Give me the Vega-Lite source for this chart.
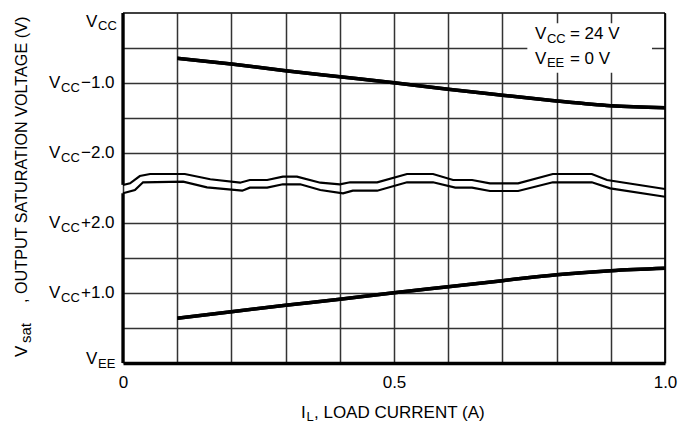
{
  "$schema": "https://vega.github.io/schema/vega-lite/v6.json",
  "width": 542,
  "height": 350,
  "autosize": {"type": "none"},
  "padding": {"left": 123, "top": 13, "right": 32, "bottom": 76},
  "background": "white",
  "config": {
    "view": {"stroke": null},
    "font": "Liberation Sans",
    "text": {"font": "Liberation Sans", "color": "black"}
  },
  "datasets": {
    "curves": [
      {"current": 0.1, "v": 8.706, "series": "high"},
      {"current": 0.2, "v": 8.543, "series": "high"},
      {"current": 0.3, "v": 8.351, "series": "high"},
      {"current": 0.4, "v": 8.18, "series": "high"},
      {"current": 0.5, "v": 8.009, "series": "high"},
      {"current": 0.6, "v": 7.82, "series": "high"},
      {"current": 0.7, "v": 7.65, "series": "high"},
      {"current": 0.8, "v": 7.486, "series": "high"},
      {"current": 0.9, "v": 7.35, "series": "high"},
      {"current": 1.0, "v": 7.294, "series": "high"},
      {"current": 0.1, "v": 1.277, "series": "low"},
      {"current": 0.2, "v": 1.466, "series": "low"},
      {"current": 0.3, "v": 1.649, "series": "low"},
      {"current": 0.4, "v": 1.82, "series": "low"},
      {"current": 0.5, "v": 2.009, "series": "low"},
      {"current": 0.6, "v": 2.18, "series": "low"},
      {"current": 0.7, "v": 2.351, "series": "low"},
      {"current": 0.8, "v": 2.523, "series": "low"},
      {"current": 0.9, "v": 2.637, "series": "low"},
      {"current": 1.0, "v": 2.706, "series": "low"}
    ],
    "breaks": [
      {"current": 0.0, "v": 5.086, "edge": "upper"},
      {"current": 0.013, "v": 5.134, "edge": "upper"},
      {"current": 0.031, "v": 5.343, "edge": "upper"},
      {"current": 0.05, "v": 5.4, "edge": "upper"},
      {"current": 0.114, "v": 5.4, "edge": "upper"},
      {"current": 0.161, "v": 5.249, "edge": "upper"},
      {"current": 0.216, "v": 5.151, "edge": "upper"},
      {"current": 0.234, "v": 5.229, "edge": "upper"},
      {"current": 0.266, "v": 5.229, "edge": "upper"},
      {"current": 0.295, "v": 5.323, "edge": "upper"},
      {"current": 0.321, "v": 5.323, "edge": "upper"},
      {"current": 0.364, "v": 5.151, "edge": "upper"},
      {"current": 0.4, "v": 5.106, "edge": "upper"},
      {"current": 0.419, "v": 5.163, "edge": "upper"},
      {"current": 0.469, "v": 5.163, "edge": "upper"},
      {"current": 0.524, "v": 5.4, "edge": "upper"},
      {"current": 0.572, "v": 5.4, "edge": "upper"},
      {"current": 0.609, "v": 5.229, "edge": "upper"},
      {"current": 0.644, "v": 5.229, "edge": "upper"},
      {"current": 0.677, "v": 5.134, "edge": "upper"},
      {"current": 0.729, "v": 5.134, "edge": "upper"},
      {"current": 0.793, "v": 5.4, "edge": "upper"},
      {"current": 0.865, "v": 5.4, "edge": "upper"},
      {"current": 0.893, "v": 5.229, "edge": "upper"},
      {"current": 1.0, "v": 4.971, "edge": "upper"},
      {"current": 0.0, "v": 4.849, "edge": "lower"},
      {"current": 0.022, "v": 4.943, "edge": "lower"},
      {"current": 0.037, "v": 5.163, "edge": "lower"},
      {"current": 0.111, "v": 5.18, "edge": "lower"},
      {"current": 0.155, "v": 5.02, "edge": "lower"},
      {"current": 0.22, "v": 4.923, "edge": "lower"},
      {"current": 0.234, "v": 5.009, "edge": "lower"},
      {"current": 0.266, "v": 5.009, "edge": "lower"},
      {"current": 0.295, "v": 5.106, "edge": "lower"},
      {"current": 0.327, "v": 5.106, "edge": "lower"},
      {"current": 0.364, "v": 4.943, "edge": "lower"},
      {"current": 0.406, "v": 4.849, "edge": "lower"},
      {"current": 0.424, "v": 4.923, "edge": "lower"},
      {"current": 0.469, "v": 4.923, "edge": "lower"},
      {"current": 0.524, "v": 5.163, "edge": "lower"},
      {"current": 0.572, "v": 5.163, "edge": "lower"},
      {"current": 0.613, "v": 5.009, "edge": "lower"},
      {"current": 0.644, "v": 5.009, "edge": "lower"},
      {"current": 0.677, "v": 4.914, "edge": "lower"},
      {"current": 0.729, "v": 4.914, "edge": "lower"},
      {"current": 0.793, "v": 5.163, "edge": "lower"},
      {"current": 0.865, "v": 5.163, "edge": "lower"},
      {"current": 0.899, "v": 4.991, "edge": "lower"},
      {"current": 1.0, "v": 4.751, "edge": "lower"}
    ],
    "ylabels": [
      {"v": 10, "sub": "CC", "suffix": "", "pos": "top"},
      {"v": 8, "sub": "CC", "suffix": "−1.0", "pos": "mid"},
      {"v": 6, "sub": "CC", "suffix": "−2.0", "pos": "mid"},
      {"v": 4, "sub": "CC", "suffix": "+2.0", "pos": "mid"},
      {"v": 2, "sub": "CC", "suffix": "+1.0", "pos": "mid"},
      {"v": 0, "sub": "EE", "suffix": "", "pos": "bottom"}
    ],
    "notes": [
      {"v": 9.386, "sub": "CC", "rest": "= 24 V"},
      {"v": 8.686, "sub": "EE", "rest": "= 0 V"}
    ],
    "one": [{}]
  },
  "layer": [
    {
      "data": {"name": "curves"},
      "mark": {"type": "line", "color": "black", "strokeWidth": 3.5, "interpolate": "monotone"},
      "encoding": {
        "x": {"field": "current", "type": "quantitative", "title": null, "scale": {"domain": [0, 1], "nice": false},
          "axis": {
            "values": [0, 0.1, 0.2, 0.3, 0.4, 0.5, 0.6, 0.7, 0.8, 0.9, 1],
            "grid": true, "gridColor": "#333", "gridWidth": 1.5, "gridOpacity": 1,
            "ticks": false, "domain": true, "domainColor": "black", "domainWidth": 3.3,
            "labelExpr": "datum.value == 0 ? '0' : datum.value == 0.5 ? '0.5' : datum.value == 1 ? '1.0' : ''",
            "labelFont": "Liberation Sans", "labelFontSize": 17, "labelColor": "black",
            "labelPadding": 11, "labelFlush": false, "labelOverlap": false, "title": null
          }},
        "y": {"field": "v", "type": "quantitative", "title": null, "scale": {"domain": [0, 10], "nice": false},
          "axis": {
            "values": [1, 2, 3, 4, 6, 7, 8, 9],
            "grid": true, "gridColor": "#333", "gridWidth": 1.5, "gridOpacity": 1,
            "ticks": false, "domain": false, "labels": false, "title": null
          }},
        "detail": {"field": "series"}
      }
    },
    {
      "data": {"name": "one"},
      "mark": {"type": "rect", "fill": "white"},
      "encoding": {
        "x": {"datum": 0.746, "type": "quantitative"},
        "x2": {"datum": 0.976},
        "y": {"datum": 9.71, "type": "quantitative"},
        "y2": {"datum": 8.29}
      }
    },
    {
      "data": {"name": "curves"},
      "mark": {"type": "line", "color": "black", "strokeWidth": 3.5, "interpolate": "monotone"},
      "encoding": {
        "x": {"field": "current", "type": "quantitative", "title": null},
        "y": {"field": "v", "type": "quantitative", "title": null},
        "detail": {"field": "series"}
      }
    },
    {
      "data": {"name": "breaks"},
      "mark": {"type": "line", "color": "black", "strokeWidth": 2.2},
      "encoding": {
        "x": {"field": "current", "type": "quantitative", "title": null},
        "y": {"field": "v", "type": "quantitative", "title": null},
        "detail": {"field": "edge"}
      }
    },
    {
      "data": {"name": "one"},
      "mark": {"type": "rule", "color": "black", "strokeWidth": 1.7},
      "encoding": {"y": {"datum": 10, "type": "quantitative"}}
    },
    {
      "data": {"name": "one"},
      "mark": {"type": "rule", "color": "black", "strokeWidth": 1.7},
      "encoding": {"x": {"datum": 1, "type": "quantitative"}}
    },
    {
      "data": {"name": "one"},
      "mark": {"type": "rule", "color": "black", "strokeWidth": 3.3},
      "encoding": {
        "x": {"datum": 0, "type": "quantitative"},
        "y": {"datum": 0, "type": "quantitative"},
        "y2": {"datum": 4.85}
      }
    },
    {
      "data": {"name": "one"},
      "mark": {"type": "rule", "color": "black", "strokeWidth": 3.3},
      "encoding": {
        "x": {"datum": 0, "type": "quantitative"},
        "y": {"datum": 5.09, "type": "quantitative"},
        "y2": {"datum": 10}
      }
    },
    {
      "data": {"name": "ylabels"},
      "transform": [{"filter": "datum.pos == 'mid'"}],
      "mark": {"type": "text", "text": "V", "align": "left", "baseline": "middle", "fontSize": 17, "dx": -74},
      "encoding": {
        "x": {"datum": 0, "type": "quantitative"},
        "y": {"field": "v", "type": "quantitative", "title": null}
      }
    },
    {
      "data": {"name": "ylabels"},
      "transform": [{"filter": "datum.pos == 'mid'"}],
      "mark": {"type": "text", "align": "left", "baseline": "middle", "fontSize": 13, "dx": -62, "dy": 5},
      "encoding": {
        "x": {"datum": 0, "type": "quantitative"},
        "y": {"field": "v", "type": "quantitative", "title": null},
        "text": {"field": "sub"}
      }
    },
    {
      "data": {"name": "ylabels"},
      "transform": [{"filter": "datum.pos == 'mid'"}],
      "mark": {"type": "text", "align": "left", "baseline": "middle", "fontSize": 17, "dx": -42},
      "encoding": {
        "x": {"datum": 0, "type": "quantitative"},
        "y": {"field": "v", "type": "quantitative", "title": null},
        "text": {"field": "suffix"}
      }
    },
    {
      "data": {"name": "ylabels"},
      "transform": [{"filter": "datum.pos == 'top'"}],
      "mark": {"type": "text", "text": "V", "align": "left", "baseline": "middle", "fontSize": 17, "dx": -37, "dy": 8.5},
      "encoding": {
        "x": {"datum": 0, "type": "quantitative"},
        "y": {"field": "v", "type": "quantitative", "title": null}
      }
    },
    {
      "data": {"name": "ylabels"},
      "transform": [{"filter": "datum.pos == 'top'"}],
      "mark": {"type": "text", "align": "left", "baseline": "middle", "fontSize": 13, "dx": -25, "dy": 13},
      "encoding": {
        "x": {"datum": 0, "type": "quantitative"},
        "y": {"field": "v", "type": "quantitative", "title": null},
        "text": {"field": "sub"}
      }
    },
    {
      "data": {"name": "ylabels"},
      "transform": [{"filter": "datum.pos == 'bottom'"}],
      "mark": {"type": "text", "text": "V", "align": "left", "baseline": "middle", "fontSize": 17, "dx": -37, "dy": -4},
      "encoding": {
        "x": {"datum": 0, "type": "quantitative"},
        "y": {"field": "v", "type": "quantitative", "title": null}
      }
    },
    {
      "data": {"name": "ylabels"},
      "transform": [{"filter": "datum.pos == 'bottom'"}],
      "mark": {"type": "text", "align": "left", "baseline": "middle", "fontSize": 13, "dx": -25, "dy": 0.5},
      "encoding": {
        "x": {"datum": 0, "type": "quantitative"},
        "y": {"field": "v", "type": "quantitative", "title": null},
        "text": {"field": "sub"}
      }
    },
    {
      "data": {"name": "notes"},
      "mark": {"type": "text", "text": "V", "align": "left", "baseline": "middle", "fontSize": 17},
      "encoding": {
        "x": {"datum": 0.76, "type": "quantitative"},
        "y": {"field": "v", "type": "quantitative", "title": null}
      }
    },
    {
      "data": {"name": "notes"},
      "mark": {"type": "text", "align": "left", "baseline": "middle", "fontSize": 13, "dx": 12, "dy": 4.5},
      "encoding": {
        "x": {"datum": 0.76, "type": "quantitative"},
        "y": {"field": "v", "type": "quantitative", "title": null},
        "text": {"field": "sub"}
      }
    },
    {
      "data": {"name": "notes"},
      "mark": {"type": "text", "align": "left", "baseline": "middle", "fontSize": 17, "dx": 35},
      "encoding": {
        "x": {"datum": 0.76, "type": "quantitative"},
        "y": {"field": "v", "type": "quantitative", "title": null},
        "text": {"field": "rest"}
      }
    },
    {
      "data": {"name": "one"},
      "mark": {"type": "text", "text": "I", "align": "left", "baseline": "middle", "fontSize": 17, "dx": -93, "dy": 50},
      "encoding": {
        "x": {"datum": 0.5, "type": "quantitative"},
        "y": {"datum": 0, "type": "quantitative"}
      }
    },
    {
      "data": {"name": "one"},
      "mark": {"type": "text", "text": "L", "align": "left", "baseline": "middle", "fontSize": 13, "dx": -87.5, "dy": 54},
      "encoding": {
        "x": {"datum": 0.5, "type": "quantitative"},
        "y": {"datum": 0, "type": "quantitative"}
      }
    },
    {
      "data": {"name": "one"},
      "mark": {"type": "text", "text": ", LOAD CURRENT (A)", "align": "left", "baseline": "middle", "fontSize": 17, "dx": -80, "dy": 50},
      "encoding": {
        "x": {"datum": 0.5, "type": "quantitative"},
        "y": {"datum": 0, "type": "quantitative"}
      }
    },
    {
      "data": {"name": "one"},
      "mark": {"type": "text", "text": "V", "angle": 270, "align": "left", "baseline": "middle", "fontSize": 17, "dx": 6, "dy": -101},
      "encoding": {
        "x": {"datum": 0, "type": "quantitative"},
        "y": {"datum": 0, "type": "quantitative"}
      }
    },
    {
      "data": {"name": "one"},
      "mark": {"type": "text", "text": "sat", "angle": 270, "align": "left", "baseline": "middle", "fontSize": 15, "dx": 20, "dy": -97},
      "encoding": {
        "x": {"datum": 0, "type": "quantitative"},
        "y": {"datum": 0, "type": "quantitative"}
      }
    },
    {
      "data": {"name": "one"},
      "mark": {"type": "text", "text": ", OUTPUT SATURATION VOLTAGE (V)", "angle": 270, "align": "left", "baseline": "middle", "fontSize": 16.2, "dx": 60, "dy": -101},
      "encoding": {
        "x": {"datum": 0, "type": "quantitative"},
        "y": {"datum": 0, "type": "quantitative"}
      }
    }
  ]
}
